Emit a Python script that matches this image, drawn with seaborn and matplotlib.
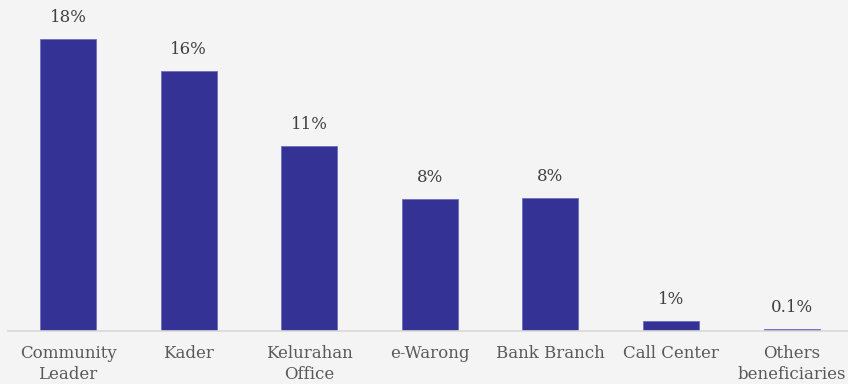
import matplotlib
matplotlib.use("Agg")
import matplotlib.pyplot as plt
import seaborn as sns
import pandas as pd

# Share of respondents by information channel (%)
channels = ["Community\nLeader", "Kader", "Kelurahan\nOffice", "e-Warong",
            "Bank Branch", "Call Center", "Others\nbeneficiaries"]
shares = [18.0, 16.0, 11.4, 8.1, 8.2, 0.6, 0.1]

df = pd.DataFrame({"channel": channels, "share": shares})

sns.set_theme(style="white")
plt.rcParams["font.family"] = ["DejaVu Serif"]

bg = "#f4f4f4"
fig = plt.figure(figsize=(8.48, 3.84), dpi=100, facecolor=bg)
ax = fig.add_axes([7.7 / 848, (384 - 330.7) / 384, 844.3 / 848, 330.7 / 384])
ax.set_facecolor(bg)

sns.barplot(data=df, x="channel", y="share", color="#353296", saturation=1,
            width=0.464, edgecolor="#6f6cc0", linewidth=0.6, ax=ax)

ax.set_xlim(-0.5, 6.5)
ax.set_ylim(0, 20.39)


def fmt(v):
    return f"{v:.0f}%" if round(v) >= 1 else f"{v:.1f}%"


for i, v in enumerate(shares):
    ax.annotate(fmt(v), (i, v), xytext=(0, 9.5), textcoords="offset points",
                ha="center", va="bottom", fontsize=12, color="#404040")

ax.set_xlabel("")
ax.set_ylabel("")
ax.set_yticks([])
ax.tick_params(axis="x", length=0, pad=10, labelsize=12, labelcolor="#595959")
for lbl in ax.get_xticklabels():
    lbl.set_linespacing(1.35)
for side in ["top", "right", "left"]:
    ax.spines[side].set_visible(False)
ax.spines["bottom"].set_color("#d9d9d9")
ax.spines["bottom"].set_linewidth(1.2)

fig.savefig("out.png", dpi=100, facecolor=bg)
